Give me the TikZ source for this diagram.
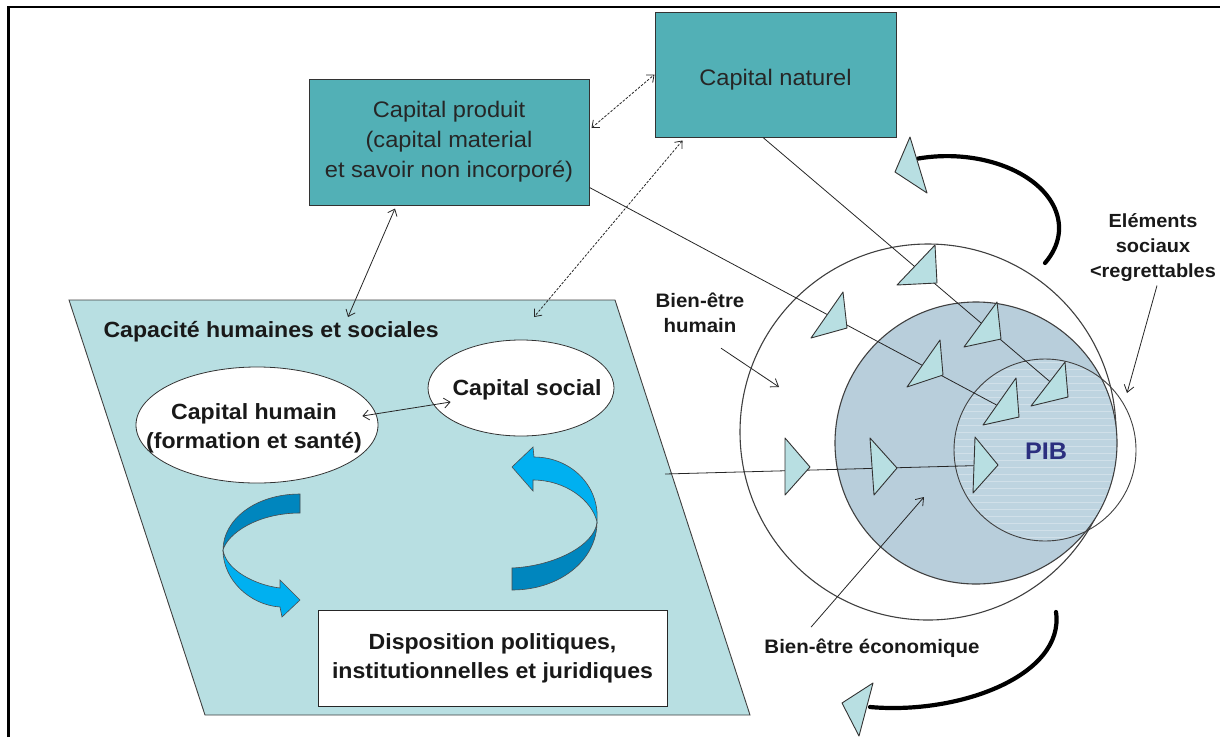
\documentclass[tikz,border=0pt]{standalone}
\usepackage{fontspec}
\setmainfont{Liberation Sans}[FakeStretch=1.05]
\usetikzlibrary{shapes.geometric,arrows.meta,calc}

\definecolor{boxteal}{RGB}{82,176,182}
\definecolor{panelfill}{RGB}{184,223,226}
\definecolor{trifill}{RGB}{184,223,226}
\definecolor{econfill}{RGB}{184,206,219}
\definecolor{pibfill}{RGB}{190,212,224}
\definecolor{pibblue}{RGB}{43,47,127}
\definecolor{ribbondark}{RGB}{0,134,190}
\definecolor{ribbonlight}{RGB}{0,176,240}

\begin{document}
\begin{tikzpicture}[x=1pt,y=-1pt,
  boxnode/.style={draw=black!80, line width=1pt, fill=boxteal, inner sep=0pt,
    font=\fontsize{22.5}{30}\selectfont, align=center, text=black!85},
  oval/.style={ellipse, draw=black!80, line width=0.8pt, fill=white, inner sep=0pt},
  boldtxt/.style={font=\fontsize{22}{29}\selectfont\bfseries, align=center, text=black!90},
  smalllbl/.style={font=\fontsize{19.5}{24.5}\selectfont\bfseries, align=center, text=black!90},
  thinline/.style={line width=0.8pt, draw=black!85},
  dbl/.style={thinline, {Straight Barb[length=6pt,width=10pt]}-{Straight Barb[length=6pt,width=10pt]}},
  onearrow/.style={thinline, -{Straight Barb[length=7pt,width=10pt]}},
  dotdash/.style={dash pattern=on 2.5pt off 1.5pt},
  ring/.style={circle, draw=black!75, line width=1.1pt, inner sep=0pt},
  tri/.style={fill=trifill, draw=black!80, line width=0.9pt, line join=round},
  bigarc/.style={line width=4.2pt, line cap=round},
  backband/.style={fill=ribbondark, draw=black!70, line width=0.6pt},
  frontband/.style={fill=ribbonlight, draw=black!70, line width=0.6pt}]

\useasboundingbox (0,0) rectangle (1220,737);

% outer frame
\draw[line width=2.5pt] (8.5,737) -- (8.5,7) -- (1220,7);

% panel of human and social capacities
\coordinate (pTL) at (69,300);
\coordinate (pTR) at (615,300);
\coordinate (pBR) at (750,715);
\coordinate (pBL) at (205,715);
\filldraw[fill=panelfill, draw=black!75, line width=0.9pt] (pTL) -- (pTR) -- (pBR) -- (pBL) -- cycle;
\node[boldtxt, anchor=west] (capT) at (100,332) {Capacité humaines et sociales};

\node[oval, minimum width=242pt, minimum height=116pt] (ch) at (257,425) {};
\node[boldtxt] (chT) at (254,428) {Capital humain\\(formation et santé)};
\node[oval, minimum width=186pt, minimum height=96pt] (cs) at (521,388) {};
\node[boldtxt] (csT) at (527,390) {Capital social};
\draw[dbl] ([xshift=-16pt,yshift=9pt]ch.east) -- ([xshift=23pt,yshift=-14pt]cs.west);

\node[draw=black!85, line width=1pt, fill=white, minimum width=349pt, minimum height=96pt,
  inner sep=0pt, boldtxt] (disp) at (492.5,658) {Disposition politiques,\\institutionnelles et juridiques};

% twisted ribbon arrows
\filldraw[backband] (300,494) .. controls (255,494) and (223,520) .. (223,550)
  .. controls (228,533) and (258,513) .. (300,513) -- cycle;
\filldraw[frontband] (223,550) .. controls (223,580) and (250,605) .. (280,607)
  -- (282,617) -- (300,600) -- (280,580) -- (280,588)
  .. controls (255,585) and (226,570) .. (223,550) -- cycle;
\filldraw[backband] (512,568) .. controls (555,566) and (595,545) .. (597,522)
  .. controls (597,560) and (560,590) .. (512,590) -- cycle;
\filldraw[frontband] (597,522) .. controls (600,485) and (570,457) .. (534,457)
  -- (533,447) -- (512,467) -- (533,491) -- (533,480)
  .. controls (565,480) and (592,500) .. (597,522) -- cycle;

% capital stocks
\node[boxnode, minimum width=280pt, minimum height=126pt] (prod) at (449,142)
  {Capital produit\\(capital material\\et savoir non incorporé)};
\node[boxnode, minimum width=241pt, minimum height=125pt, text height=27pt] (nat) at (775.5,74.5)
  {Capital naturel};

\coordinate (capHum) at (348,317);
\coordinate (capSoc) at (534,317);
\draw[dbl, dotdash] ([xshift=2pt,yshift=14pt]prod.east) -- (nat.west);
\draw[dbl, dotdash] ([xshift=28pt,yshift=-3pt]nat.south west) -- (capSoc);
\draw[dbl] ([xshift=-54pt,yshift=-3pt]prod.south) -- (capHum);

% well-being circles
\node[ring, fill=white, minimum size=376pt] (hum) at (928,432) {};
\node[ring, fill=econfill, minimum size=282pt] (eco) at (976,443) {};
\begin{scope}
  \clip (976,443) circle[radius=140];
  \clip (1045,450) circle[radius=91];
  \fill[pibfill] (940,350) rectangle (1150,550);
  \foreach \yy in {362,369,...,540} \draw[white, opacity=0.3, line width=0.9pt] (940,\yy) -- (1150,\yy);
\end{scope}
\node[ring, line width=0.9pt, minimum size=182pt] (pib) at (1045,450) {};
\node[font=\fontsize{24}{24}\selectfont\bfseries, text=pibblue] (pibT) at (1046,451) {PIB};

% flows into well-being
\coordinate (pStart) at ([yshift=18pt]prod.south east);
\coordinate (pEnd) at (1019,417);
\coordinate (nStart) at ([xshift=-12.5pt]nat.south);
\coordinate (nEnd) at (1068,397);
\coordinate (hStart) at (665,474);
\coordinate (hEnd) at (998,465);
\draw[thinline] (pStart) -- (pEnd);
\draw[thinline] (nStart) -- (nEnd);
\draw[thinline] (hStart) -- (hEnd);

\filldraw[tri] (810,467) -- (785,438) -- (785,495) -- cycle;
\filldraw[tri] (897,468) -- (870,438) -- (874,495) -- cycle;
\filldraw[tri] (998,465) -- (975,437) -- (973,493) -- cycle;
\filldraw[tri] (937,283) -- (935,245) -- (897,285) -- cycle;
\filldraw[tri] (1001,339) -- (997,302) -- (964,347) -- cycle;
\filldraw[tri] (1068,397) -- (1065,362) -- (1031,406) -- cycle;
\filldraw[tri] (847,328) -- (843,292) -- (811,338) -- cycle;
\filldraw[tri] (943,375) -- (940,340) -- (907,387) -- cycle;
\filldraw[tri] (1019,417) -- (1016,378) -- (983,425) -- cycle;

% labels
\node[smalllbl] (bh) at (700,313) {Bien-être\\humain};
\coordinate (bhTip) at (779,387);
\draw[onearrow] ([xshift=21pt,yshift=-12pt]bh.south) -- (bhTip);

\node[smalllbl] (be) at (872,648) {Bien-être économique};
\coordinate (beTip) at (924,497);
\draw[onearrow] ([xshift=-61pt,yshift=8pt]be.north) -- (beTip);

\node[smalllbl, font=\fontsize{19}{25}\selectfont\bfseries] (el) at (1153,248) {Eléments\\sociaux\\<regrettables};
\coordinate (elTip) at (1127,393);
\draw[onearrow] ([xshift=4pt]el.south) -- (elTip);

% feedback loops
\draw[bigarc] (1045,263) arc[start angle=29, end angle=-105, x radius=112, y radius=72];
\filldraw[tri] (910,137) -- (927,193) -- (895,172) -- cycle;
\draw[bigarc] (1056,612) .. controls (1065,675) and (960,715) .. (870,707);
\filldraw[tri] (873,683) -- (859,736) -- (842,703) -- cycle;

\end{tikzpicture}
\end{document}
